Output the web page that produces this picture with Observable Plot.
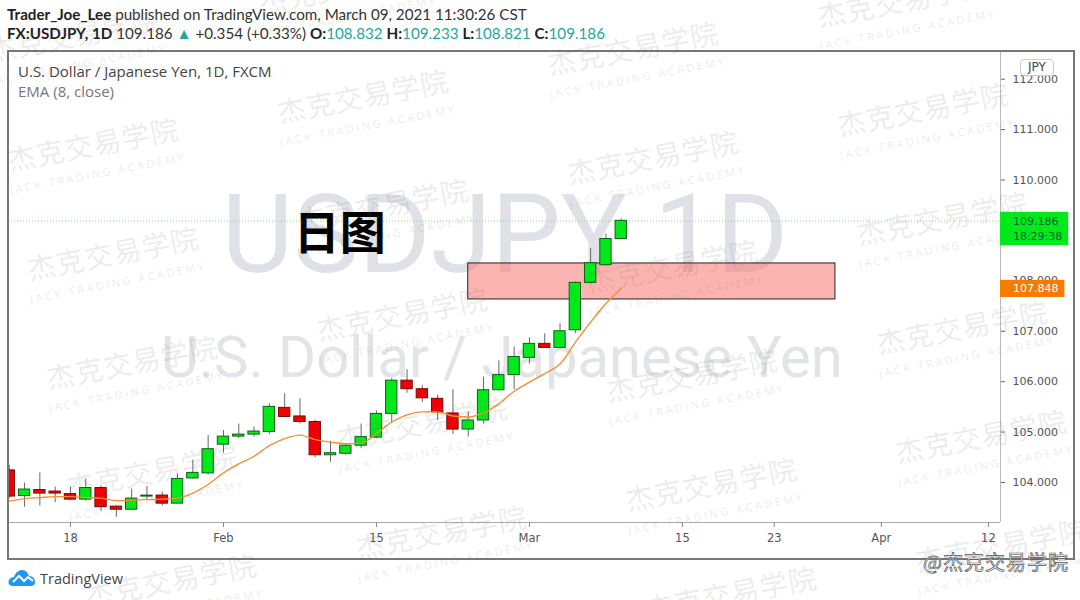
<!DOCTYPE html>
<html><head><meta charset="utf-8">
<script src="https://cdn.jsdelivr.net/npm/d3@7"></script>
<script src="https://cdn.jsdelivr.net/npm/@observablehq/plot@0.6"></script>
<style>
html,body{margin:0;padding:0;background:#fff;width:1080px;height:600px;overflow:hidden;position:relative;font-family:"Open Sans",sans-serif}
#head{height:50px;position:relative;font:15.2px Lato,sans-serif;color:#333;white-space:pre}
#head div{position:absolute;left:7px}
#head b{color:#222}
#head i{font-style:normal;color:#26a69a}
#chart{position:absolute;left:0;top:50px}
#frame{position:absolute;left:7px;top:50px;width:1064px;height:506px;border:2px solid #777;pointer-events:none}
#legend{position:absolute;left:18px;top:61px;font-size:15px;color:#444}
#legend div{height:20px;line-height:20px}
#jpy{position:absolute;left:1020px;top:59px;width:34px;height:17px;line-height:17px;text-align:center;background:#fff;border:1px solid #ccc;border-radius:4px;font:12px "DejaVu Sans";color:#444;box-sizing:border-box}
#logo{position:absolute;left:8px;top:569px;display:flex;align-items:center;gap:5px;font-size:14.5px;color:#444}
#wechat{position:absolute;left:923px;top:547px;font:20px "Noto Sans CJK SC";color:#fff;-webkit-text-stroke:.7px #555;letter-spacing:1px;white-space:pre}
#wm{position:absolute;left:0;top:0;width:1080px;height:600px;overflow:hidden;pointer-events:none}
#wm span{position:absolute;white-space:pre;transform:translate(-50%,-50%) rotate(-10.8deg)}
.wa{font:400 28px "Noto Sans CJK SC";letter-spacing:1px;color:rgba(110,110,110,.14)}
.wb{font:400 11px "Open Sans";letter-spacing:2.6px;color:rgba(110,110,110,.16)}
</style></head><body>
<div id="head">
<div style="top:5px"><b>Trader_Joe_Lee</b> published on TradingView.com, March 09, 2021 11:30:26 CST</div>
<div style="top:24px"><b>FX:USDJPY, 1D</b> 109.186 <i>▲</i> +0.354 (+0.33%) <b>O:</b><i>108.832</i> <b>H:</b><i>109.233</i> <b>L:</b><i>108.821</i> <b>C:</b><i>109.186</i></div>
</div>
<div id="chart"></div>
<div id="frame"></div>
<div id="legend"><div>U.S. Dollar / Japanese Yen, 1D, FXCM</div><div style="color:#777">EMA (8, close)</div></div>
<div id="jpy">JPY</div>
<div id="logo"><svg width="27" height="17" viewBox="0 0 27 17"><path d="M4 16C0 16-1 10 3 8 4 7 5 7 6 7 8 2 11 0 14 0 18 0 20 3 21 6 25 6 27 9 27 12 27 15 25 16 23 16Z" fill="#2196f3"/><path d="M5 12 11 6 16 11 20 7 25 11" fill="none" stroke="#fff" stroke-width="2"/></svg><span>TradingView</span></div>
<div id="wechat">@杰克交易学院</div>
<div id="wm"></div>
<script>
const opens =[104.24,103.73,103.85,103.82,103.77,103.66,103.89,103.52,103.46,103.72,103.74,103.58,104.08,104.18,104.75,104.91,104.95,105.00,105.48,105.31,105.20,104.54,104.57,104.73,104.89,105.36,106.02,105.85,105.66,105.37,105.05,105.23,105.83,106.13,106.47,106.75,106.67,107.02,107.96,108.31,108.83];
const highs =[104.34,103.99,104.19,103.91,103.91,104.07,103.93,103.54,103.87,103.92,103.81,104.17,104.44,104.93,105.03,105.16,105.10,105.56,105.76,105.66,105.23,104.82,104.77,105.16,105.42,106.06,106.24,105.92,105.73,105.84,105.40,106.09,106.41,106.69,106.87,106.95,107.15,107.98,108.64,108.93,109.23];
const lows  =[103.68,103.51,103.53,103.60,103.64,103.63,103.42,103.31,103.46,103.66,103.53,103.58,104.07,104.15,104.58,104.87,104.90,104.95,105.30,105.16,104.49,104.40,104.54,104.67,104.87,105.18,105.77,105.59,105.23,104.95,104.90,105.16,105.81,105.84,106.35,106.67,106.65,106.95,107.94,108.29,108.82];
const closes=[103.72,103.86,103.78,103.78,103.66,103.89,103.51,103.46,103.68,103.74,103.58,104.07,104.19,104.66,104.91,104.95,105.01,105.50,105.30,105.20,104.54,104.58,104.73,104.90,105.36,106.02,105.85,105.67,105.39,105.05,105.23,105.83,106.13,106.49,106.75,106.67,107.00,107.96,108.35,108.83,109.19];
const ema   =[103.63,103.68,103.70,103.72,103.72,103.70,103.69,103.64,103.65,103.66,103.67,103.69,103.79,103.96,104.19,104.37,104.52,104.73,104.87,104.94,104.85,104.80,104.77,104.78,104.97,105.20,105.34,105.40,105.40,105.32,105.30,105.38,105.56,105.81,105.99,106.16,106.35,106.78,107.18,107.55,107.85];
const timeTickIndex=[4,14,24,34,44,50,57,64];
const timeTickLabels=["18","Feb","15","Mar","15","23","Apr","12"];
const priceTicks=[104,105,106,107,108,109,110,111,112];
const lastClose=109.186, lastEma=107.848;
const zoneLow=107.631, zoneHigh=108.345, zoneStart=30, zoneEnd=54;

const candles=opens.map((o,i)=>({i,o,h:highs[i],l:lows[i],c:closes[i],up:closes[i]>=o}));
const emaRows=ema.map((v,i)=>({i,v}));
const W=0.37, rightEdge=64.79;
const font="DejaVu Sans";
const plot=Plot.plot({
  width:1080,height:510,marginLeft:8,marginRight:80,marginTop:1,marginBottom:38,
  style:{background:"transparent",overflow:"visible"},
  x:{domain:[-0.05,rightEdge],axis:null},
  y:{domain:[103.206,112.55],axis:null},
  marks:[
    Plot.text(["USDJPY 1D"],{x:()=>32.4,y:()=>108.87,text:d=>d,fontSize:110,fontFamily:"Roboto",fill:"#e0e1e6",fontWeight:400,textAnchor:"middle"}),
    Plot.text(["U.S. Dollar / Japanese Yen"],{x:()=>32.2,y:()=>106.47,text:d=>d,fontSize:58,fontFamily:"Roboto",fill:"#e3e4e8",textAnchor:"middle"}),
    Plot.ruleY([lastClose],{stroke:"#7fe08a",strokeWidth:1,strokeDasharray:"1,2"}),
    Plot.rect([0],{x1:()=>zoneStart,x2:()=>zoneEnd,y1:()=>zoneLow,y2:()=>zoneHigh,fill:"#f96a64",fillOpacity:.5,stroke:"#222",strokeWidth:1}),
    Plot.ruleX(candles,{x:"i",y1:"l",y2:"h",stroke:"#666",strokeWidth:1,clip:true}),
    Plot.rect(candles,{x1:d=>d.i-W,x2:d=>d.i+W,y1:"o",y2:"c",fill:d=>d.up?"#00ea1a":"#f00000",stroke:d=>d.up?"#0e5f18":"#7a0808",strokeWidth:1,clip:true}),
    Plot.line(emaRows,{x:"i",y:"v",stroke:"#f58f33",strokeWidth:1.4,curve:"monotone-x",clip:true}),
    Plot.text(["日图"],{x:()=>21.6,y:()=>108.93,text:d=>d,fontSize:46,fontWeight:700,fontFamily:"Noto Sans CJK SC",fill:"#000"}),
    Plot.ruleX([rightEdge],{stroke:"#bbb"}),
    Plot.ruleY([103.206],{stroke:"#aaa"}),
    Plot.axisX(timeTickIndex,{anchor:"bottom",tickSize:5,tickPadding:6,tickFormat:d=>timeTickLabels[timeTickIndex.indexOf(d)],fontSize:11.5,fontFamily:font,fill:"#555",stroke:"#888",label:null}),
    Plot.axisY(priceTicks,{anchor:"right",tickSize:4,tickPadding:8,tickFormat:".3f",fontSize:11,fontFamily:font,fill:"#555",stroke:"#666",label:null}),
    Plot.rect([0],{x1:()=>rightEdge,x2:()=>69.25,y1:()=>108.70,y2:()=>109.36,fill:"#00ea1a",clip:false}),
    Plot.rect([0],{x1:()=>rightEdge,x2:()=>69.0,y1:()=>107.67,y2:()=>108.01,fill:"#f57c00",clip:false}),
    Plot.text([lastClose.toFixed(3)],{x:()=>65.6,y:()=>109.186,text:d=>d,textAnchor:"start",fontSize:11,fontFamily:font,fill:"#063"}),
    Plot.text(["18:29:38"],{x:()=>65.6,y:()=>108.88,text:d=>d,textAnchor:"start",fontSize:11,fontFamily:font,fill:"#063"}),
    Plot.text([lastEma.toFixed(3)],{x:()=>65.6,y:()=>lastEma,text:d=>d,textAnchor:"start",fontSize:11,fontFamily:font,fill:"#fff"})
  ]
});
document.getElementById("chart").append(plot);
// repeating brand watermark laid over the whole picture
const wm=document.getElementById("wm");
const ox=908,oy=29;
for(let r=-2;r<7;r++)for(let c=-4;c<2;c++){
  const sx=ox+c*270+r*19.5, sy=oy-c*48+r*109;
  if(sx<-120||sx>1200||sy<-60||sy>660)continue;
  const a=document.createElement("span");a.className="wa";a.textContent="杰克交易学院";a.style.left=(sx-5)+"px";a.style.top=(sy-30)+"px";wm.append(a);
  const b=document.createElement("span");b.className="wb";b.textContent="JACK TRADING ACADEMY";b.style.left=sx+"px";b.style.top=sy+"px";wm.append(b);
}
</script>
</body></html>
